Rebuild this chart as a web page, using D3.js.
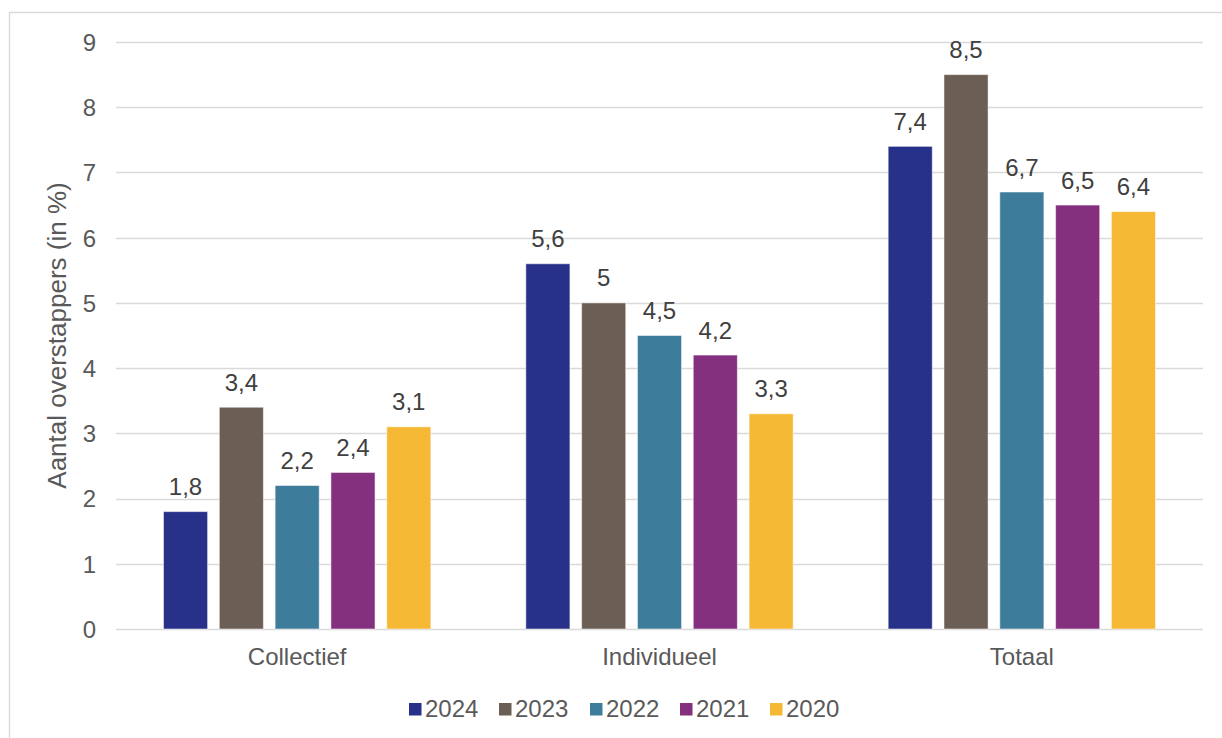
<!DOCTYPE html>
<html>
<head>
<meta charset="utf-8">
<script src="https://cdn.jsdelivr.net/npm/d3@7"></script>
<style>
  html, body { margin: 0; padding: 0; background: #fff; }
  svg { display: block; font-family: "Liberation Sans", Arial, sans-serif; }
</style>
</head>
<body>
<div id="chart"></div>
<script>
// data
const categories = ['Collectief', 'Individueel', 'Totaal'];
const years = ['2024', '2023', '2022', '2021', '2020'];
const values2024 = [1.8, 5.6, 7.4];
const values2023 = [3.4, 5.0, 8.5];
const values2022 = [2.2, 4.5, 6.7];
const values2021 = [2.4, 4.2, 6.5];
const values2020 = [3.1, 3.3, 6.4];
const yTicks = [0, 1, 2, 3, 4, 5, 6, 7, 8, 9];
const colors = ['#283189', '#6B5E55', '#3E7C9C', '#84307F', '#F5B935'];

const seriesByYear = {
    '2024': values2024, '2023': values2023, '2022': values2022,
    '2021': values2021, '2020': values2020
};

const W = 1222, H = 738;
const margin = { top: 42, right: 19, bottom: 109, left: 116 };
const plotW = W - margin.left - margin.right;
const plotH = H - margin.top - margin.bottom;

const svg = d3.select('#chart').append('svg')
    .attr('width', W)
    .attr('height', H);

// chart border (runs off to the right and bottom)
svg.append('path')
    .attr('d', `M9.5,${H + 5} V12.5 H${W + 5}`)
    .attr('fill', 'none')
    .attr('stroke', '#d9d9d9')
    .attr('stroke-width', 1.3);

const g = svg.append('g')
    .attr('transform', `translate(${margin.left},${margin.top})`);

const y = d3.scaleLinear().domain([0, 9]).range([plotH, 0]);
const x0 = d3.scaleBand().domain(categories).range([0, plotW]);
const outer = 47.5;
const x1 = d3.scaleBand().domain(years)
    .range([outer, x0.bandwidth() - outer])
    .paddingInner(0.21);
const color = d3.scaleOrdinal().domain(years).range(colors);

// gridlines
g.append('g')
    .selectAll('line')
    .data(yTicks)
    .enter().append('line')
    .attr('x1', 0)
    .attr('x2', plotW)
    .attr('y1', d => Math.round(y(d)) + 0.5)
    .attr('y2', d => Math.round(y(d)) + 0.5)
    .attr('stroke', '#d9d9d9')
    .attr('stroke-width', 1.3);

// y axis labels
const yAxis = g.append('g')
    .call(d3.axisLeft(y).tickValues(yTicks).tickSize(0).tickPadding(20).tickFormat(d3.format('d')));
yAxis.select('.domain').remove();
yAxis.selectAll('text')
    .attr('fill', '#595959')
    .style('font-size', '24px')
    .attr('dy', '0.35em');

// bars
const groups = g.selectAll('g.cat')
    .data(categories)
    .enter().append('g')
    .attr('class', 'cat')
    .attr('transform', d => `translate(${x0(d)},0)`);

groups.selectAll('rect')
    .data((c, i) => years.map(yr => ({ year: yr, value: seriesByYear[yr][i] })))
    .enter().append('rect')
    .attr('x', d => x1(d.year))
    .attr('y', d => y(d.value))
    .attr('width', x1.bandwidth())
    .attr('height', d => plotH - y(d.value))
    .attr('fill', d => color(d.year))
    .attr('stroke', '#ffffff')
    .attr('stroke-opacity', 0.5)
    .attr('stroke-width', 1);

// data labels
groups.selectAll('text.val')
    .data((c, i) => years.map(yr => ({ year: yr, value: seriesByYear[yr][i] })))
    .enter().append('text')
    .attr('class', 'val')
    .attr('x', d => x1(d.year) + x1.bandwidth() / 2)
    .attr('y', d => y(d.value) - 16.5)
    .attr('text-anchor', 'middle')
    .attr('fill', '#404040')
    .style('font-size', '24px')
    .text(d => String(d.value).replace('.', ','));

// category labels
g.selectAll('text.catlbl')
    .data(categories)
    .enter().append('text')
    .attr('class', 'catlbl')
    .attr('x', d => x0(d) + x0.bandwidth() / 2)
    .attr('y', plotH + 36)
    .attr('text-anchor', 'middle')
    .attr('fill', '#595959')
    .style('font-size', '24px')
    .text(d => d);

// y axis title
svg.append('text')
    .attr('transform', `translate(66,${margin.top + plotH / 2}) rotate(-90)`)
    .attr('text-anchor', 'middle')
    .attr('fill', '#595959')
    .style('font-size', '26px')
    .text('Aantal overstappers (in %)');

// legend
const legendX = [409, 499, 590, 680, 770];
const legend = svg.append('g').attr('transform', 'translate(0,717)');
const items = legend.selectAll('g')
    .data(years)
    .enter().append('g')
    .attr('transform', (d, i) => `translate(${legendX[i]},0)`);
items.append('rect')
    .attr('x', 0)
    .attr('y', -14)
    .attr('width', 12.5)
    .attr('height', 12.5)
    .attr('fill', d => color(d));
items.append('text')
    .attr('x', 16)
    .attr('y', 0)
    .attr('fill', '#595959')
    .style('font-size', '24px')
    .text(d => d);
</script>
</body>
</html>
